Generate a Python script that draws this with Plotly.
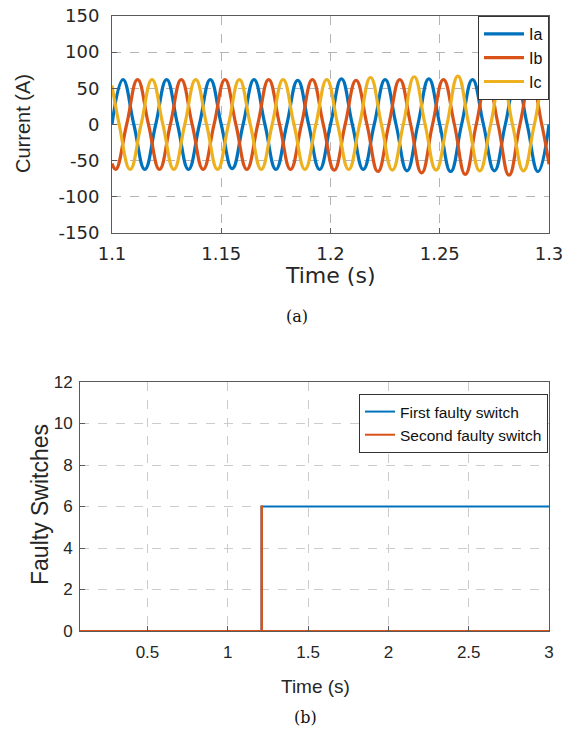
import plotly.graph_objects as go

# ---------------- data: (a) three-phase currents ----------------
# extremes (peak/trough) read from the picture, and zero crossings
ia_peak_t = [1.105, 1.115, 1.125, 1.135, 1.145, 1.155, 1.165, 1.175, 1.185, 1.195,
             1.205, 1.215, 1.225, 1.235, 1.245, 1.255, 1.265, 1.275, 1.285, 1.295]
ia_peak_v = [62, -62, 62, -62, 62, -61, 62, -62, 61, -62,
             63, -62, 62, -64, 63, -65, 62, -64, 63, -65]
ia_zero_t = [1.100, 1.110, 1.120, 1.130, 1.140, 1.150, 1.160, 1.170, 1.180, 1.190, 1.200,
             1.210, 1.220, 1.230, 1.240, 1.250, 1.260, 1.270, 1.280, 1.290, 1.300]

ib_peak_t = [1.1017, 1.1117, 1.1217, 1.1317, 1.1417, 1.1517, 1.1617, 1.1717, 1.1817, 1.1917,
             1.2017, 1.2117, 1.2217, 1.2317, 1.2417, 1.2517, 1.2617, 1.2717, 1.2817, 1.2917]
ib_peak_v = [-62, 62, -62, 62, -62, 62, -62, 62, -62, 62,
             -63, 61, -65, 62, -67, 62, -69, 62, -70, 62]
ib_zero_t = [1.1067, 1.1167, 1.1267, 1.1367, 1.1467, 1.1567, 1.1667, 1.1767, 1.1867, 1.1967,
             1.2067, 1.2167, 1.2267, 1.2367, 1.2467, 1.2567, 1.2667, 1.2767, 1.2867, 1.2967]
ib_end_t = [1.100, 1.300]
ib_end_v = [-54, -55]

ic_peak_t = [1.1083, 1.1183, 1.1283, 1.1383, 1.1483, 1.1583, 1.1683, 1.1783, 1.1883, 1.1983,
             1.2083, 1.2183, 1.2283, 1.2383, 1.2483, 1.2583, 1.2683, 1.2783, 1.2883, 1.2983]
ic_peak_v = [-62, 62, -62, 62, -62, 62, -62, 62, -62, 62,
             -62, 65, -63, 66, -63, 67, -64, 66, -64, 67]
ic_zero_t = [1.1033, 1.1133, 1.1233, 1.1333, 1.1433, 1.1533, 1.1633, 1.1733, 1.1833, 1.1933,
             1.2033, 1.2133, 1.2233, 1.2333, 1.2433, 1.2533, 1.2633, 1.2733, 1.2833, 1.2933]
ic_end_t = [1.100, 1.300]
ic_end_v = [54, 60]

# ---------------- data: (b) faulty switches ----------------
first_t = [0.08, 1.21, 1.21, 3.0]
first_v = [0, 0, 6, 6]
second_t = [0.08, 1.21, 1.21, 1.213, 1.213, 3.0]
second_v = [0, 0, 6, 6, 0, 0]

top_xticks = [1.1, 1.15, 1.2, 1.25, 1.3]
top_xlabels = ["1.1", "1.15", "1.2", "1.25", "1.3"]
top_yticks = [-150, -100, -50, 0, 50, 100, 150]
top_ylabels = ["-150", "-100", "-50", "0", "50", "100", "150"]
bot_xticks = [0.5, 1, 1.5, 2, 2.5, 3]
bot_xlabels = ["0.5", "1", "1.5", "2", "2.5", "3"]
bot_yticks = [0, 2, 4, 6, 8, 10, 12]


def merge(pt, pv, zt, et=(), ev=()):
    pts = list(zip(pt, pv)) + [(t, 0) for t in zt] + list(zip(et, ev))
    pts.sort()
    return [p[0] for p in pts], [p[1] for p in pts]


ta, va = merge(ia_peak_t, ia_peak_v, ia_zero_t)
tb, vb = merge(ib_peak_t, ib_peak_v, ib_zero_t, ib_end_t, ib_end_v)
tc, vc = merge(ic_peak_t, ic_peak_v, ic_zero_t, ic_end_t, ic_end_v)

BLUE, RED, YEL = "#0072BD", "#D95319", "#EDB120"
W, H = 569, 736

fig = go.Figure()
for t, v, name, col in [(ta, va, "Ia", BLUE), (tb, vb, "Ib", RED), (tc, vc, "Ic", YEL)]:
    fig.add_trace(go.Scatter(x=t, y=v, mode="lines", name=name,
                             line=dict(color=col, width=3.2, shape="spline", smoothing=1.3),
                             xaxis="x", yaxis="y", legend="legend"))

fig.add_trace(go.Scatter(x=first_t, y=first_v, mode="lines", name="First faulty switch",
                         line=dict(color=BLUE, width=2), xaxis="x2", yaxis="y2", legend="legend2"))
fig.add_trace(go.Scatter(x=second_t, y=second_v, mode="lines", name="Second faulty switch",
                         line=dict(color=RED, width=2), xaxis="x2", yaxis="y2", legend="legend2"))

AX = "#5a5a5a"
top_font = dict(family="DejaVu Sans, Liberation Sans, Arial", size=18, color="#262626")
bot_font = dict(family="Liberation Sans, Arial", size=17, color="#262626")

common = dict(showline=True, linecolor=AX, linewidth=1, mirror=True, ticks="inside",
              ticklen=5, tickcolor=AX, showgrid=True, griddash="dash", zeroline=False,
              automargin=False)

fig.update_layout(
    width=W, height=H, margin=dict(l=0, r=0, t=0, b=0, autoexpand=False),
    paper_bgcolor="white", plot_bgcolor="white", showlegend=True,
    xaxis=dict(domain=[112 / W, 549 / W], anchor="y", range=[1.1, 1.3],
               tickvals=top_xticks, ticktext=top_xlabels,
               tickfont=top_font, ticklabelstandoff=4, gridcolor="#b4b4b4", **common),
    yaxis=dict(domain=[1 - 233 / H, 1 - 16 / H], anchor="x", range=[-150, 150],
               tickvals=top_yticks, ticktext=top_ylabels, tickfont=top_font,
               ticklabelstandoff=8, gridcolor="#b4b4b4", **common),
    xaxis2=dict(domain=[80 / W, 549 / W], anchor="y2", range=[0.08, 3],
                tickvals=bot_xticks, ticktext=bot_xlabels,
                tickfont=bot_font, ticklabelstandoff=6, gridcolor="#cccccc", **common),
    yaxis2=dict(domain=[1 - 631 / H, 1 - 382 / H], anchor="x2", range=[0, 12],
                tickvals=bot_yticks, tickfont=bot_font, ticklabelstandoff=3,
                gridcolor="#cccccc", **common),
    legend=dict(x=549 / W, y=1 - 16 / H, xanchor="right", yanchor="top",
                bgcolor="white", bordercolor="#333333", borderwidth=1,
                font=dict(family="Liberation Sans, Arial", size=16, color="#111111"),
                tracegroupgap=0, itemwidth=40),
    legend2=dict(x=548 / W, y=1 - 394 / H, xanchor="right", yanchor="top",
                 bgcolor="white", bordercolor="#333333", borderwidth=1,
                 font=dict(family="Liberation Sans, Arial", size=15.5, color="#111111"),
                 tracegroupgap=0, itemwidth=30),
)

ann = [
    dict(text="Time (s)", x=330 / W, y=1 - 275 / H, font=dict(family="DejaVu Sans, Arial", size=22, color="#262626")),
    dict(text="Current (A)", x=23 / W, y=1 - 124 / H, textangle=-90,
         font=dict(family="Liberation Sans, Arial", size=20, color="#262626")),
    dict(text="(a)", x=297 / W, y=1 - 316 / H, font=dict(family="DejaVu Serif, Liberation Serif", size=16, color="#111111")),
    dict(text="Time (s)", x=315 / W, y=1 - 686 / H, font=dict(family="Liberation Sans, Arial", size=19, color="#262626")),
    dict(text="Faulty Switches", x=40 / W, y=1 - 505 / H, textangle=-90,
         font=dict(family="Liberation Sans, Arial", size=23, color="#262626")),
    dict(text="(b)", x=305 / W, y=1 - 717 / H, font=dict(family="DejaVu Serif, Liberation Serif", size=16, color="#111111")),
]
for a in ann:
    fig.add_annotation(xref="paper", yref="paper", showarrow=False, xanchor="center", yanchor="middle", **a)

fig.write_html("out.html")
